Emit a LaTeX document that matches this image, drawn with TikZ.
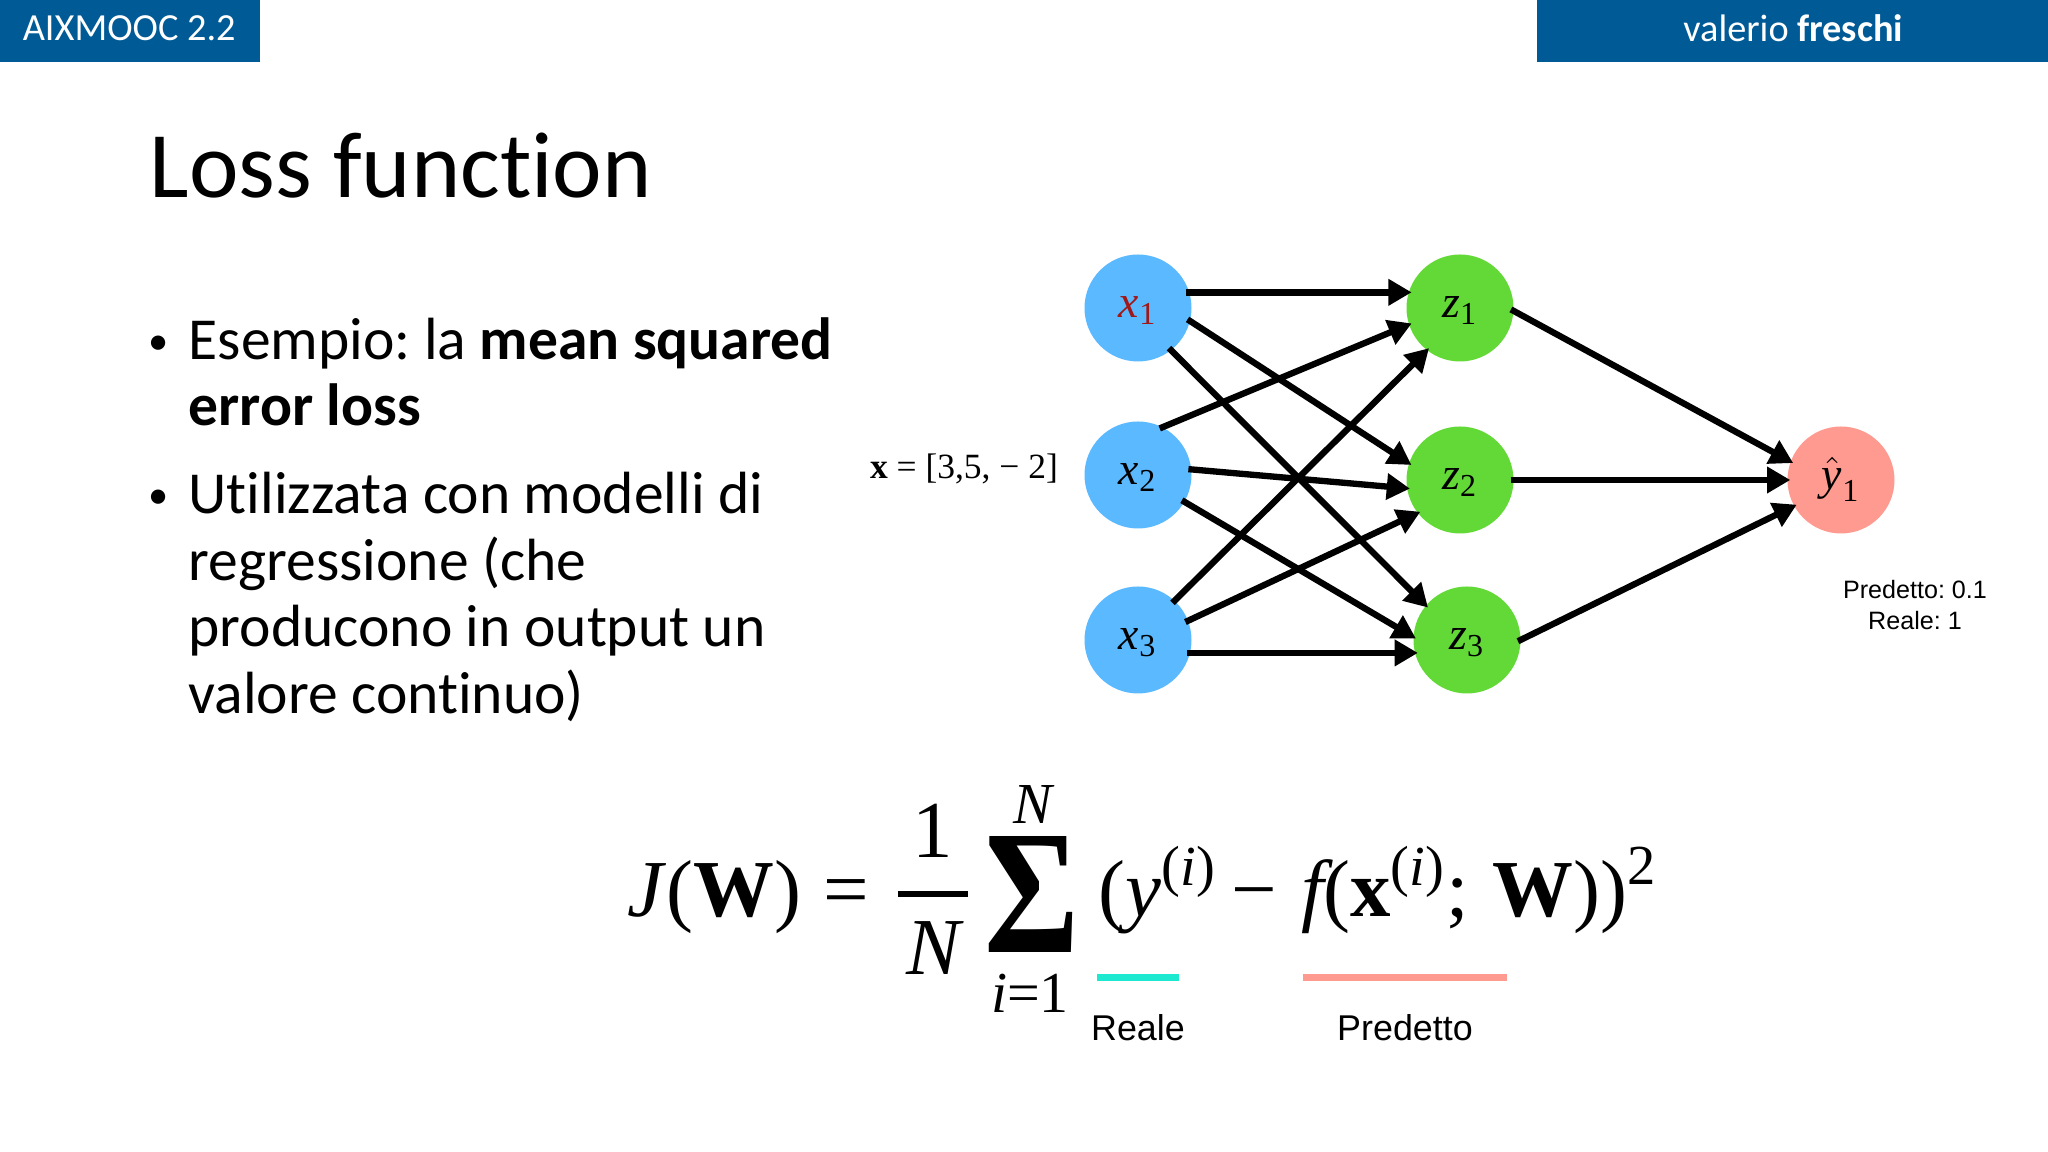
\documentclass[tikz,border=0pt]{standalone}
\usepackage{amsmath}
\usepackage{fontspec}
\setmainfont{Carlito}[Ligatures=NoCommon]
\newfontfamily\timesf{Liberation Serif}
\newfontfamily\arialf{Liberation Sans}
\usetikzlibrary{arrows.meta}
\frenchspacing
\newcommand{\mv}[1]{\text{\timesf\itshape #1}}
\newcommand{\mr}[1]{\text{\timesf\upshape #1}}
\newcommand{\mb}[1]{\text{\timesf\upshape\bfseries #1}}
\definecolor{bandblue}{HTML}{005A96}
\definecolor{inblue}{HTML}{5AB9FF}
\definecolor{hidgreen}{HTML}{62D936}
\definecolor{outred}{HTML}{FF9A90}
\definecolor{realteal}{HTML}{1DE8D0}
\definecolor{xred}{HTML}{A01818}
\begin{document}
\begin{tikzpicture}[>={Triangle[length=6.6pt,width=7.2pt]},
    band/.style={fill=bandblue,draw=none,text=white,inner sep=0pt,font=\fontsize{10.9}{12}\selectfont},
    neuron/.style={circle,minimum size=1.07cm,inner sep=0pt,outer sep=0pt,text height=8pt,text depth=2.5pt,font=\fontsize{13}{15}\selectfont},
    conn/.style={->,line width=1.8pt,shorten >=-0.8pt,shorten <=-0.8pt},
    bullettext/.style={anchor=base west,align=left,inner sep=0pt,font=\fontsize{16.95}{18.95}\selectfont},
    dotmark/.style={anchor=base,inner sep=0pt,font=\fontsize{11.5}{14}\selectfont},
    small/.style={inner sep=0pt,align=center,font=\arialf\fontsize{7.15}{8.9}\selectfont},
    under/.style={inner sep=0pt,font=\arialf\fontsize{10.2}{12}\selectfont},
    eqn/.style={inner sep=0pt,font=\timesf\fontsize{23}{28}\selectfont},
    eqnsmall/.style={inner sep=0pt,font=\timesf\fontsize{16.5}{20}\selectfont}]
        \useasboundingbox (0,0) rectangle (20.48,11.52);

        % header bands
        \node[band,minimum width=2.61cm,minimum height=0.63cm,anchor=north west] (left) at (-0.02,11.54) {\raisebox{1pt}{AIXMOOC 2.2}};
        \node[band,minimum width=5.12cm,minimum height=0.63cm,anchor=north east] (right) at (20.50,11.54) {\raisebox{1pt}{valerio \textbf{freschi}}};

        % title and bullets
        \node[anchor=base west,inner sep=0pt,font=\fontsize{26.7}{30}\selectfont] (title) at (1.49,9.54) {Loss function};
        \node[dotmark] (dotone) at (1.59,7.975) {•};
        \node[bullettext] (one) at (1.88,7.26) {Esempio: la \textbf{mean squared}\\\textbf{error loss}};
        \node[dotmark] (dottwo) at (1.59,6.43) {•};
        \node[bullettext] (two) at (1.88,4.385) {Utilizzata con modelli di\\regressione (che\\producono in output un\\valore continuo)};

        % the network
        \node[neuron,fill=inblue] (x1) at (11.38,8.44) {$\textcolor{xred}{\mv{x}_{\mr{1}}}$};
        \node[neuron,fill=inblue] (x2) at (11.38,6.77) {$\mv{x}_{\mr{2}}$};
        \node[neuron,fill=inblue] (x3) at (11.38,5.12) {$\mv{x}_{\mr{3}}$};
        \node[neuron,fill=hidgreen] (z1) at (14.60,8.44) {$\mv{z}_{\mr{1}}$};
        \node[neuron,fill=hidgreen] (z2) at (14.60,6.72) {$\mv{z}_{\mr{2}}$};
        \node[neuron,fill=hidgreen] (z3) at (14.67,5.12) {$\mv{z}_{\mr{3}}$};
        \node[neuron,fill=outred] (y1) at (18.41,6.72) {$\hat{\mv{y}}_{\mr{1}}$};

        \foreach \from/\fromang/\to/\toang in {
            x1/17/z1/163,
            x1/-14/z2/162,
            x1/-52/z3/140,
            x2/63/z1/198,
            x2/6/z2/189,
            x2/-30/z3/177,
            x3/47/z1/232,
            x3/21/z2/218,
            x3/-14/z3/194,
            z1/-3/y1/160,
            z2/0/y1/180,
            z3/0/y1/209}
                \draw[conn] (\from.\fromang) -- (\to.\toang);

        % labels next to the network
        \node[inner sep=0pt,font=\timesf\fontsize{10.1}{12}\selectfont] (input) at (9.64,6.83) {\textbf{x} = [3,5, − 2]};
        \node[small] (pred) at (19.15,5.47) {Predetto: 0.1\\Reale: 1};

        % the formula, piece by piece
        \node[eqn,anchor=base west] (fJ) at (6.27,2.35) {\textit{J}(\textbf{W})};
        \node[eqn,anchor=base west] (feq) at (8.23,2.35) {=};
        \node[eqn,anchor=base] (fone) at (9.33,2.94) {1};
        \fill (8.975,2.55) rectangle (9.68,2.61);
        \node[eqn,anchor=base] (fN) at (9.35,1.77) {\textit{N}};
        \node[inner sep=0pt,anchor=base,font=\timesf\bfseries] (fsum) at (10.32,1.99) {\resizebox{0.95cm}{1.16cm}{Σ}};
        \node[eqnsmall,anchor=base] (ftop) at (10.34,3.28) {\textit{N}};
        \node[eqnsmall,anchor=base] (fbot) at (10.30,1.39) {\textit{i}=1};
        \node[eqn,anchor=base west] (frest) at (10.98,2.35)
            {$\mr{(}\mv{y}^{\mr{(}\mv{i}\mr{)}}\mkern-1mu\mathbin{\mr{−}}\mkern1mu\mv{f}\mr{(}\mb{x}^{\mr{(}\mv{i}\mr{)}}\mr{;}\;\mb{W}\mr{))}^{\mr{2}}$};
        \fill[realteal] (10.97,1.71) rectangle (11.79,1.78);
        \fill[outred] (13.03,1.71) rectangle (15.07,1.78);
        \node[under] (reale) at (11.38,1.24) {Reale};
        \node[under] (predetto) at (14.05,1.24) {Predetto};
\end{tikzpicture}
\end{document}
